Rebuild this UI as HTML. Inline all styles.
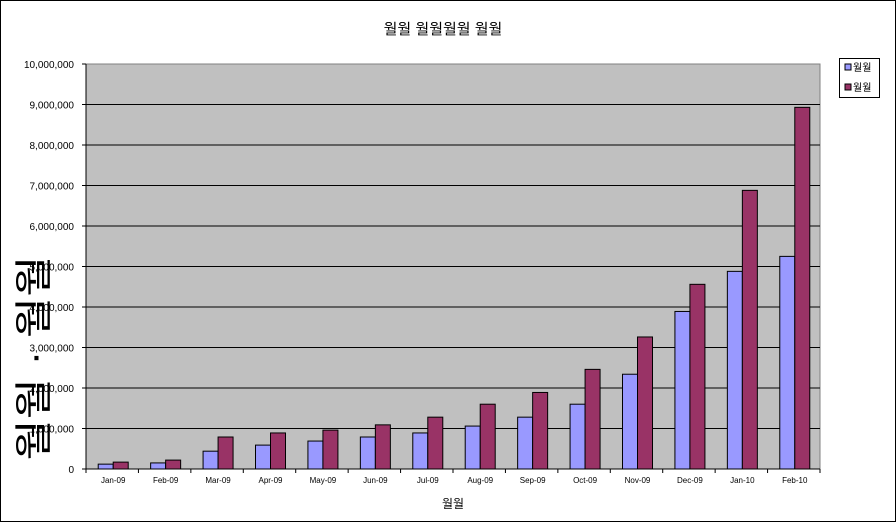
<!DOCTYPE html>
<html><head><meta charset="utf-8"><style>
html,body{margin:0;padding:0;background:#fff;}
svg{display:block;font-family:"Liberation Sans","Noto Sans CJK KR",sans-serif;}
</style></head><body>
<svg id="chart" width="896" height="522" viewBox="0 0 896 522" xmlns="http://www.w3.org/2000/svg">
<rect x="0.5" y="0.5" width="895" height="521" fill="#fff" stroke="#000"/>
<text x="443" y="34" text-anchor="middle" font-size="15" font-family="'Liberation Sans','Noto Sans CJK KR',sans-serif">월월 월월월월 월월</text>
<rect x="86" y="64" width="734" height="405" fill="#c0c0c0" stroke="#808080"/>
<g id="grid"></g>
<g id="bars"></g>
<g id="axes"></g>
<text transform="translate(47,358) rotate(-90)" text-anchor="middle" font-size="38" textLength="205" lengthAdjust="spacingAndGlyphs">월월 · 월월</text>
<text x="453" y="508" text-anchor="middle" font-size="12">월월</text>
<g>
<rect x="839.5" y="58.5" width="40" height="39" fill="#fff" stroke="#000"/>
<rect x="845" y="64" width="6" height="6" fill="#9999ff" stroke="#000"/>
<text x="853" y="71" font-size="10">월월</text>
<rect x="845" y="84" width="6" height="6" fill="#993366" stroke="#000"/>
<text x="853" y="91" font-size="10">월월</text>
</g>
</svg>
<script>
const categories = ["Jan-09","Feb-09","Mar-09","Apr-09","May-09","Jun-09","Jul-09","Aug-09","Sep-09","Oct-09","Nov-09","Dec-09","Jan-10","Feb-10"];
const series1 = [120000,150000,440000,590000,690000,790000,890000,1060000,1280000,1600000,2340000,3890000,4880000,5250000];
const series2 = [170000,220000,790000,890000,960000,1090000,1280000,1600000,1890000,2460000,3260000,4560000,6880000,8930000];
const yTicks = [0,1000000,2000000,3000000,4000000,5000000,6000000,7000000,8000000,9000000,10000000];
const yTickLabels = ["0","1,000,000","2,000,000","3,000,000","4,000,000","5,000,000","6,000,000","7,000,000","8,000,000","9,000,000","10,000,000"];

const NS="http://www.w3.org/2000/svg";
const X0=86,X1=820,Y0=469,Y1=64,YMAX=10000000;
const y=v=>Y0-(v/YMAX)*(Y0-Y1);
const band=(X1-X0)/categories.length;
const x=i=>X0+i*band;
function mk(tag,attrs,parent){const e=document.createElementNS(NS,tag);for(const k in attrs)e.setAttribute(k,attrs[k]);parent.appendChild(e);return e;}
const grid=document.getElementById('grid'),bars=document.getElementById('bars'),axes=document.getElementById('axes');
yTicks.forEach((t,i)=>{
  if(t>0&&t<YMAX){const l=mk('line',{x1:X0,x2:X1,y1:y(t),y2:y(t),stroke:'#000','stroke-width':1},grid);
  
  }
  const tk=mk('line',{x1:X0-4,x2:X0,y1:y(t),y2:y(t),stroke:'#000'},axes);
  
  
  const tx=mk('text',{x:X0-12,y:y(t)+4,'text-anchor':'end','font-size':10},axes);
  tx.textContent=yTickLabels[i];
  
  
});
const bw=15;
categories.forEach((c,i)=>{
  const cx=x(i)+band/2+1;
  const b1=mk('rect',{x:cx-bw,y:y(series1[i]),width:bw,height:Y0-y(series1[i]),fill:'#9999ff',stroke:'#000','stroke-width':1},bars);
  
  
  const b2=mk('rect',{x:cx,y:y(series2[i]),width:bw,height:Y0-y(series2[i]),fill:'#993366',stroke:'#000','stroke-width':1},bars);
  
  
  const tk=mk('line',{x1:x(i),x2:x(i),y1:Y0,y2:Y0+4,stroke:'#000'},axes);
  
  
  const tx=mk('text',{x:cx,y:Y0+14,'text-anchor':'middle','font-size':8},axes);
  tx.textContent=c;
  
  
});
const endTick=mk('line',{x1:X1,x2:X1,y1:Y0,y2:Y0+4,stroke:'#000'},axes);


const xa=mk('line',{x1:X0,x2:X1,y1:Y0,y2:Y0,stroke:'#000'},axes);


const ya=mk('line',{x1:X0,x2:X0,y1:Y1,y2:Y0,stroke:'#000'},axes);


</script>
</body></html>
